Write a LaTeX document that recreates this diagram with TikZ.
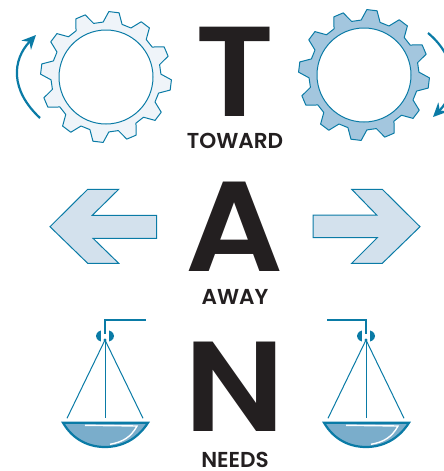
\documentclass[tikz,border=0pt]{standalone}
\usepackage{fontspec}
\setmainfont{Poppins}[BoldFont={* SemiBold}]
\newfontface\bigface{Poppins SemiBold}[FakeStretch=1.07]
\usetikzlibrary{arrows.meta}
\definecolor{inkdark}{HTML}{231F20}
\definecolor{tealline}{HTML}{0A7BA6}
\definecolor{gearpale}{HTML}{EFF4F9}
\definecolor{gearblue}{HTML}{A3C6DE}
\definecolor{arrowpale}{HTML}{D3E1ED}
\definecolor{panblue}{HTML}{7AADCB}
\tikzset{bigletter/.style={inner sep=0pt, text=inkdark, font=\bigface\fontsize{64}{64}\selectfont}}
\tikzset{caption/.style={inner sep=0pt, text=inkdark, font=\fontsize{10.8}{12}\selectfont\bfseries}}
\tikzset{bigarrow/.style={draw=tealline, fill=arrowpale, line width=0.5pt, line join=miter}}
\tikzset{turn/.style={draw=tealline, line width=1.1pt, -{Stealth[length=7pt,width=6.5pt]}}}
\tikzset{gearline/.style={draw=tealline, line width=0.5pt, line join=round}}
\begin{document}
\begin{tikzpicture}[x=0.5pt, y=-0.5pt]
  \useasboundingbox (0,0) rectangle (444,471);
  \clip (0,0) rectangle (444,471);
  % gears
  \foreach \gx/\gy/\gcol in {106/77/gearpale, 364/75/gearblue} {
    \draw [gearline, fill=\gcol] (\gx,\gy) ++(-93:55)
      \foreach \a in {-83,-53,...,247} {
        -- ([shift={(\gx,\gy)}] \a-10:55)
        -- ([shift={(\gx,\gy)}] \a-4.5:65.5)
        -- ([shift={(\gx,\gy)}] \a+4.5:65.5)
        -- ([shift={(\gx,\gy)}] \a+10:55)
      } -- cycle;
    \draw [gearline, fill=white] (\gx,\gy) circle [radius=47];
  }
  \coordinate (leftstart) at (40,118);
  \coordinate (lefttip) at (36,35);
  \coordinate (rightstart) at (428,33);
  \coordinate (righttip) at (433,117);
  \draw [turn] (leftstart) .. controls (10,90) and (12,60) .. (lefttip);
  \draw [turn] (rightstart) .. controls (458,58) and (458,92) .. (righttip);
  % letters
  \node [bigletter] (letterT) at (235,72) {T};
  \node [bigletter] (letterA) at (235,227) {A};
  \node [bigletter] (letterN) at (235,387) {N};
  \node [caption] (toward) at (235,140.5) {TOWARD};
  \node [caption] (away) at (235,297) {AWAY};
  \node [caption] (needs) at (235,460) {NEEDS};
  % arrows
  \draw [bigarrow] (50,226.7) -- (87.7,189.3) -- (118.7,189.3) -- (92.3,215.3) -- (156.7,215.3)
    -- (156.7,238.3) -- (93,238.3) -- (118.7,263.3) -- (87.7,263.3) -- cycle;
  \draw [bigarrow] (420,226.7) -- (382.3,189.3) -- (351.7,189.3) -- (376.7,215) -- (313,215)
    -- (313,237.7) -- (377.3,237.7) -- (351.7,263.3) -- (382.3,263.3) -- cycle;
  % scales
  \foreach \sx/\hook in {105/40.5, 366/-39} {
    \begin{scope}[shift={(\sx,0)}]
      \fill [tealline] (0,336) ellipse [x radius=9, y radius=6.3];
      \fill [white] (-4,328) rectangle (4,344);
      \draw [tealline, line width=1.1pt] (\hook,320.3) -- (0,320.3) -- (0,334);
      \coordinate (top) at (0,340);
      \fill [tealline] (top) circle [radius=1.6];
      \draw [tealline, line width=0.5pt] (top) -- (-38,418.3);
      \draw [tealline, line width=0.5pt] (top) -- (38,418.3);
      \draw [tealline, line width=0.5pt] (top) -- (0,418.3);
      \draw [draw=tealline, fill=panblue, line width=1.1pt] (-42,422.7) -- (43,422.7)
        .. controls (32,440) and (16,447) .. (0,447) .. controls (-16,447) and (-32,440) .. (-42,422.7) -- cycle;
      \draw [white, line width=0.7pt] (-20,425.3) -- (32,426) .. controls (26,437) and (18,442) .. (5,444.3);
    \end{scope}
  }
\end{tikzpicture}
\end{document}
